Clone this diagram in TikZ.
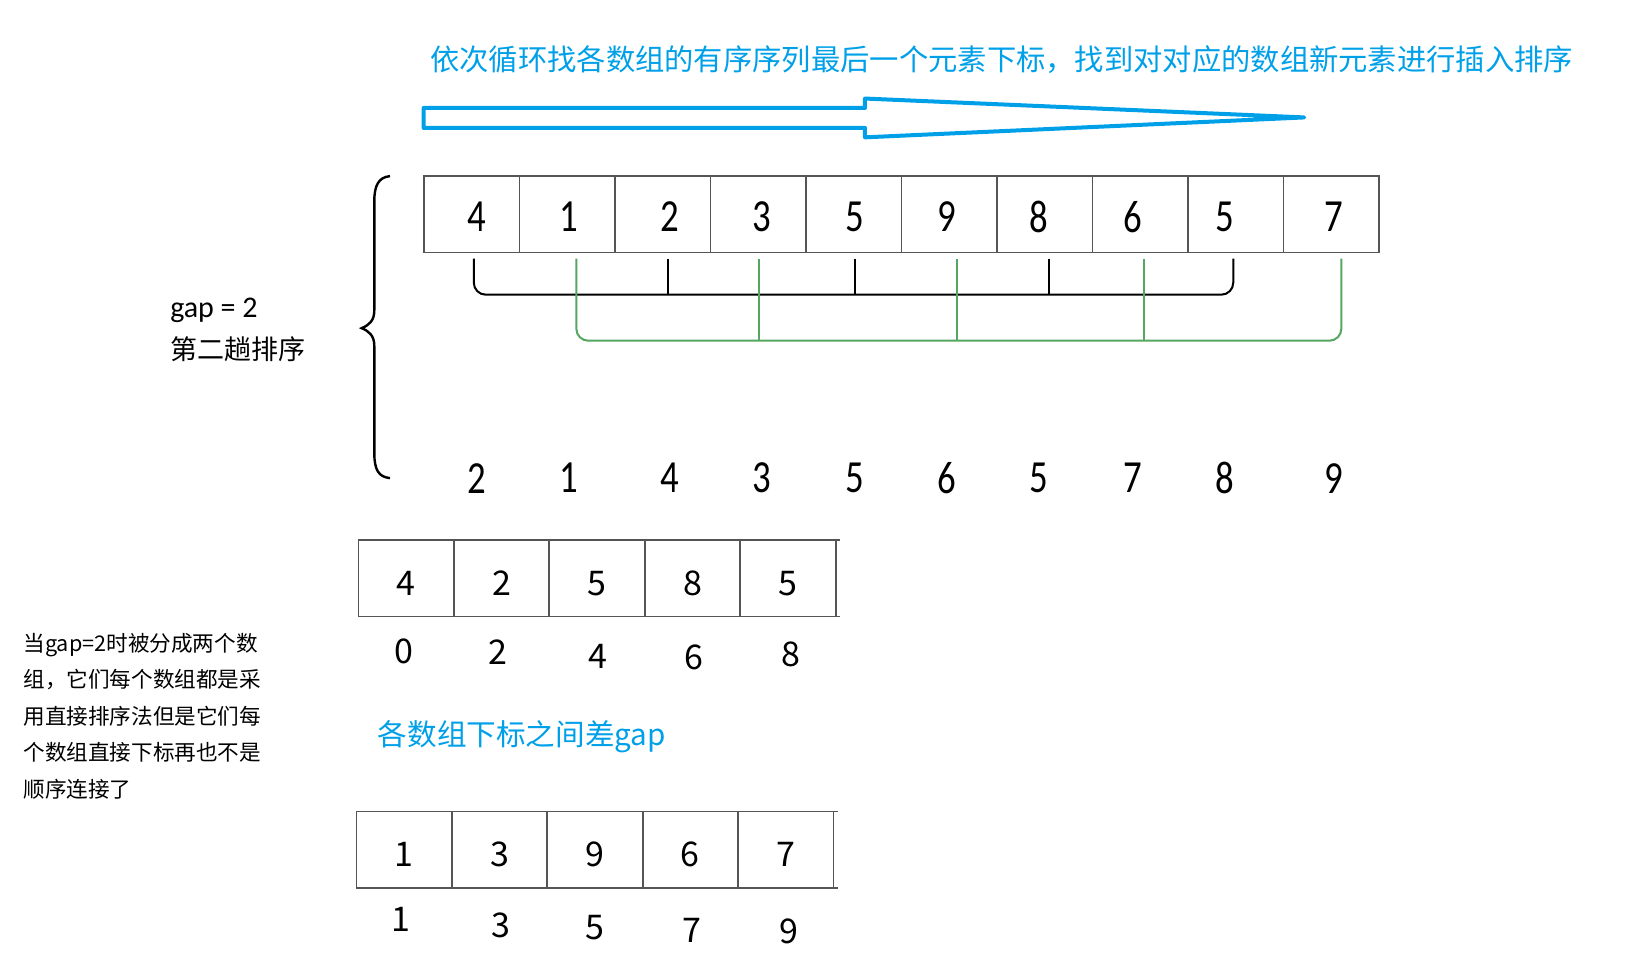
\documentclass[tikz,border=0pt]{standalone}
\usepackage{fontspec}
\setmainfont{Carlito}
\newfontfamily\cjk{Noto Sans CJK SC}
\newfontfamily\numfont[FakeStretch=0.8]{Carlito}
\usetikzlibrary{positioning}
\definecolor{skyblue}{RGB}{0,160,233}
\definecolor{grp}{RGB}{84,166,96}
\definecolor{cellline}{RGB}{85,85,85}
\begin{document}
\begin{tikzpicture}[x=0.5242pt,y=-0.5242pt,
  cellA/.style={draw=cellline,line width=0.7pt,minimum width=47.75pt,minimum height=38.3pt,inner sep=0pt,outer sep=0pt},
  cellB/.style={draw=cellline,line width=0.9pt,minimum width=47.7pt,minimum height=38.3pt,inner sep=0pt,outer sep=0pt,text height=17pt,text depth=0pt,font=\cjk\fontsize{17}{17}\selectfont},
  numA/.style={inner sep=0pt,font=\numfont\fontsize{23}{23}\selectfont},
  idx/.style={inner sep=0pt,font=\cjk\fontsize{17}{17}\selectfont},
  blk/.style={draw=black,line width=1pt},
  grn/.style={draw=grp,line width=1pt},
  stub/.style={draw=cellline,line width=0.9pt}
]
\useasboundingbox (0,0) rectangle (1568,912);

% title
\node[anchor=west,inner sep=0pt,text=skyblue,font=\cjk\fontsize{14.65}{14.65}\selectfont] (title) at (410,57) {依次循环找各数组的有序序列最后一个元素下标，找到对对应的数组新元素进行插入排序};

% arrow
\draw[skyblue,line width=2pt,line join=round] (404,103) -- (825,103) -- (825,94) -- (1244,112) -- (825,131) -- (825,122) -- (404,122) -- cycle;

% top array
\node[cellA] (t0) at (450,204.5) {};
\node[cellA,right=0pt of t0] (t1) {};
\node[cellA,right=0pt of t1] (t2) {};
\node[cellA,right=0pt of t2] (t3) {};
\node[cellA,right=0pt of t3] (t4) {};
\node[cellA,right=0pt of t4] (t5) {};
\node[cellA,right=0pt of t5] (t6) {};
\node[cellA,right=0pt of t6] (t7) {};
\node[cellA,right=0pt of t7] (t8) {};
\node[cellA,right=0pt of t8] (t9) {};
\node[numA] (n0) at (455,207) {4};
\node[numA] (n1) at (543,207) {1};
\node[numA] (n2) at (639,207) {2};
\node[numA] (n3) at (727,207) {3};
\node[numA] (n4) at (815,207) {5};
\node[numA] (n5) at (903,207) {9};
\node[numA] (n6) at (991,207) {8};
\node[numA] (n7) at (1080,207) {6};
\node[numA] (n8) at (1168,207) {5};
\node[numA] (n9) at (1272,207) {7};

% black group bracket
\draw[blk,rounded corners=6pt] ([xshift=1pt,yshift=-3pt]t0.south) -- ([xshift=1pt,yshift=-21pt]t0.south) -- ([xshift=-1.3pt,yshift=-21pt]t8.south) -- ([xshift=-1.3pt,yshift=-3pt]t8.south);
\foreach \c/\s in {t2/2.4pt,t4/0.5pt,t6/2pt} \draw[blk] ([xshift=\s,yshift=-3pt]\c.south) -- ([xshift=\s,yshift=-21pt]\c.south);

% green group bracket
\draw[grn,rounded corners=6pt] ([xshift=4.5pt,yshift=-3pt]t1.south) -- ([xshift=4.5pt,yshift=-44pt]t1.south) -- ([xshift=5pt,yshift=-44pt]t9.south) -- ([xshift=5pt,yshift=-3pt]t9.south);
\foreach \c/\s in {t3/0.3pt,t5/4pt,t7/1.9pt} \draw[grn] ([xshift=\s,yshift=-3pt]\c.south) -- ([xshift=\s,yshift=-44pt]\c.south);

% brace
\draw[black,line width=1.2pt] (372,168) .. controls (361,169) and (357,177) .. (357,192) -- (357,296) .. controls (357,306) and (352,310) .. (345,313) .. controls (352,316) and (357,320) .. (357,330) -- (357,432) .. controls (357,448) and (361,455) .. (372,456);

% gap label
\node[anchor=west,inner sep=0pt,font=\fontsize{15}{15}\selectfont] (gaplabel) at (162,296) {gap = 2};
\node[anchor=west,inner sep=0pt,font=\cjk\fontsize{13.5}{13.5}\selectfont] (passlabel) at (162,333) {第二趟排序};

% sorted row
\node[numA] (r0) at (455,456) {2};
\node[numA] (r1) at (543,456) {1};
\node[numA] (r2) at (639,456) {4};
\node[numA] (r3) at (727,456) {3};
\node[numA] (r4) at (815,456) {5};
\node[numA] (r5) at (903,456) {6};
\node[numA] (r6) at (991,456) {5};
\node[numA] (r7) at (1080,456) {7};
\node[numA] (r8) at (1168,456) {8};
\node[numA] (r9) at (1272,456) {9};

% second array
\node[cellB] (s0) at (387.5,551.5) {4};
\node[cellB,right=0pt of s0] (s1) {2};
\node[cellB,right=0pt of s1] (s2) {5};
\node[cellB,right=0pt of s2] (s3) {8};
\node[cellB,right=0pt of s3] (s4) {5};
\draw[stub] (s4.north east) -- ++(4,0);
\draw[stub] (s4.south east) -- ++(4,0);
\node[idx] (i0) at (385,621) {0};
\node[idx] (i1) at (475,622) {2};
\node[idx] (i2) at (570,626) {4};
\node[idx] (i3) at (662,627) {6};
\node[idx] (i4) at (754,624) {8};

% middle note
\node[anchor=west,inner sep=0pt,text=skyblue,font=\cjk\fontsize{14.8}{14.8}\selectfont] (gapnote) at (360,703) {各数组下标之间差gap};

% third array
\node[cellB] (u0) at (385.5,810.5) {1};
\node[cellB,right=0pt of u0] (u1) {3};
\node[cellB,right=0pt of u1] (u2) {9};
\node[cellB,right=0pt of u2] (u3) {6};
\node[cellB,right=0pt of u3] (u4) {7};
\draw[stub] (u4.north east) -- ++(4,0);
\draw[stub] (u4.south east) -- ++(4,0);
\node[idx] (j0) at (382,877) {1};
\node[idx] (j1) at (478,883) {3};
\node[idx] (j2) at (567,885) {5};
\node[idx] (j3) at (660,887) {7};
\node[idx] (j4) at (752,888) {9};

% left explanation
\node[anchor=west,align=left,inner sep=0pt,font=\cjk\fontsize{10.8}{18.2}\selectfont] (explain) at (22,683) {当gap=2时被分成两个数\\组，它们每个数组都是采\\用直接排序法但是它们每\\个数组直接下标再也不是\\顺序连接了};
\end{tikzpicture}
\end{document}
